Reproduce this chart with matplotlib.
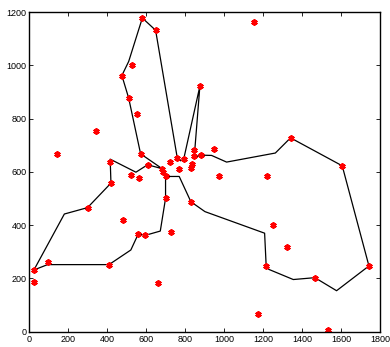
import matplotlib
matplotlib.use('Agg')
import matplotlib.pyplot as plt

# customer locations (red stars)
pts_x = [580, 648, 525, 475, 510, 554, 344, 144, 571, 415, 607, 722, 759, 792,
         846, 845, 880, 946, 875, 769, 834, 829, 682, 687, 699, 522, 564, 419,
         974, 1221, 1151, 1340, 1605, 1742, 1465, 1215, 1250, 1320, 1171, 1530,
         827, 700, 725, 660, 479, 299, 559, 594, 409, 94, 24, 22]
pts_y = [1178, 1132, 1003, 962, 877, 817, 752, 667, 668, 637, 627, 637, 653, 648,
         683, 658, 663, 687, 922, 612, 628, 613, 611, 598, 583, 588, 577, 558,
         583, 583, 1162, 728, 623, 247, 203, 247, 402, 317, 67, 6,
         488, 501, 373, 182, 418, 466, 367, 362, 252, 262, 232, 187]

# route (black line)
route_x = [682, 571, 510, 475, 510, 580, 648, 759, 776, 792, 875, 846, 880, 935,
           1012, 1262, 1340, 1605, 1742, 1576, 1465, 1354, 1229, 1215, 1207, 901,
           829, 769, 699, 699, 672, 595, 559, 521, 409, 94, 24, 180, 299, 419,
           415, 547, 607, 682]
route_y = [612, 668, 877, 962, 1015, 1178, 1132, 653, 642, 648, 922, 655, 663, 662,
           637, 671, 728, 623, 247, 154, 203, 196, 234, 247, 370, 451,
           488, 583, 583, 501, 378, 362, 367, 307, 252, 252, 232, 442, 466, 558,
           648, 599, 627, 612]

fig = plt.figure(figsize=(3.9, 3.47), dpi=100)
ax = fig.add_axes([0.075, 0.044, 0.9, 0.921])

ax.plot(route_x, route_y, color='black', linewidth=0.9)
# matlab-style asterisk marker
ax.plot(pts_x, pts_y, linestyle='none', marker=(6, 2, 0), markersize=4.5,
        markeredgewidth=1.4, color='red', markeredgecolor='red')

ax.set_xlim(0, 1800)
ax.set_ylim(0, 1200)
ax.set_xticks(range(0, 1801, 200))
ax.set_yticks(range(0, 1201, 200))
ax.tick_params(direction='in', length=3, width=0.6, labelsize=6.5,
               top=True, right=True, pad=2)
for lab in ax.get_xticklabels() + ax.get_yticklabels():
    lab.set_fontfamily('Liberation Sans')
for sp in ax.spines.values():
    sp.set_linewidth(1.0)

plt.savefig('out.png', dpi=100)
